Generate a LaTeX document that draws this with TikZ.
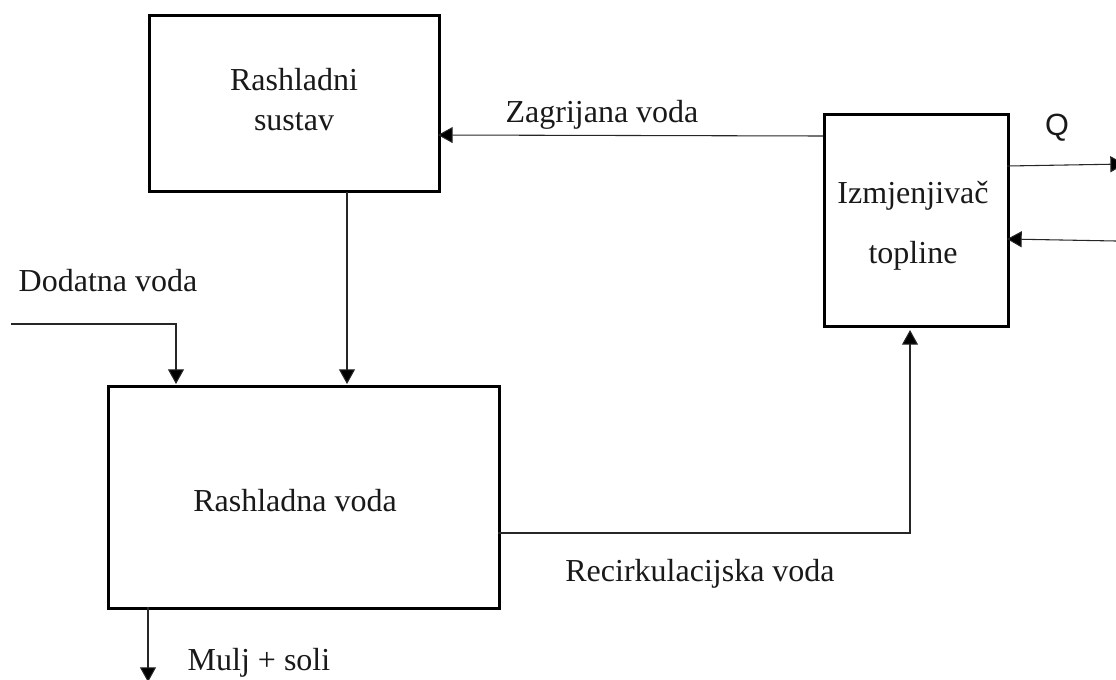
\documentclass[tikz,border=0pt]{standalone}
\usepackage{fontspec}
\setmainfont{Liberation Serif}
\setsansfont{Liberation Sans}
\usetikzlibrary{arrows.meta}
\tikzset{
  x=0.75pt,y=-0.75pt,
  blockbox/.style={draw=black,line width=2.3pt,inner sep=0pt,anchor=north west},
  conn/.style={draw=black!85,line width=0.8pt},
  arr/.style={conn,-{Triangle[length=11pt,width=12pt,fill=black]}},
  lab/.style={font=\fontsize{24pt}{26pt}\selectfont,inner sep=0pt,align=center,text=black!90},
}
\begin{document}
\begin{tikzpicture}
\useasboundingbox (0,0) rectangle (1116,679);
\node[blockbox,minimum width=290pt*0.75,minimum height=176pt*0.75] (sustav) at (147.5,13.5) {};
\node[blockbox,minimum width=391pt*0.75,minimum height=222pt*0.75] (voda) at (106.5,384.5) {};
\node[blockbox,minimum width=184pt*0.75,minimum height=212pt*0.75] (izm) at (822.5,112.5) {};
\node[lab] (t1) at (294,100) {Rashladni\\[4pt]sustav};
\node[lab] (t2) at (295,501) {Rashladna voda};
\node[lab] (t3) at (913,226) {Izmjenjivač\\[19pt]topline};
\node[lab] (t4) at (602,115) {Zagrijana voda};
\node[lab,font=\sffamily\fontsize{23pt}{26pt}\selectfont] (t5) at (1057,128) {Q};
\node[lab] (t6) at (108,281) {Dodatna voda};
\node[lab] (t7) at (700,574) {Recirkulacijska voda};
\node[lab] (t8) at (259,663) {Mulj + soli};
\coordinate (qout) at (1125,164);
\coordinate (qin) at (1116,241);
\coordinate (dod) at (11,324);
\coordinate (dodk) at (176,324);
\coordinate (dodt) at (176,384);
\coordinate (sb) at (347,192);
\coordinate (st) at (347,384);
\coordinate (rs) at (498,533);
\coordinate (rk) at (910,533);
\coordinate (rt) at (910,330);
\coordinate (zs) at (823,136);
\coordinate (ze) at (438,135);
\coordinate (qs) at (1007,166);
\coordinate (qis) at (1007,239);
\coordinate (ms) at (148,607);
\coordinate (me) at (148,682);
\draw[arr] (zs) -- (ze);
\draw[arr] (qs) -- (qout);
\draw[arr] (qin) -- (qis);
\draw[arr] (sb) -- (st);
\draw[arr] (dod) -- (dodk) -- (dodt);
\draw[arr] (rs) -- (rk) -- (rt);
\draw[arr] (ms) -- (me);
\end{tikzpicture}
\end{document}
